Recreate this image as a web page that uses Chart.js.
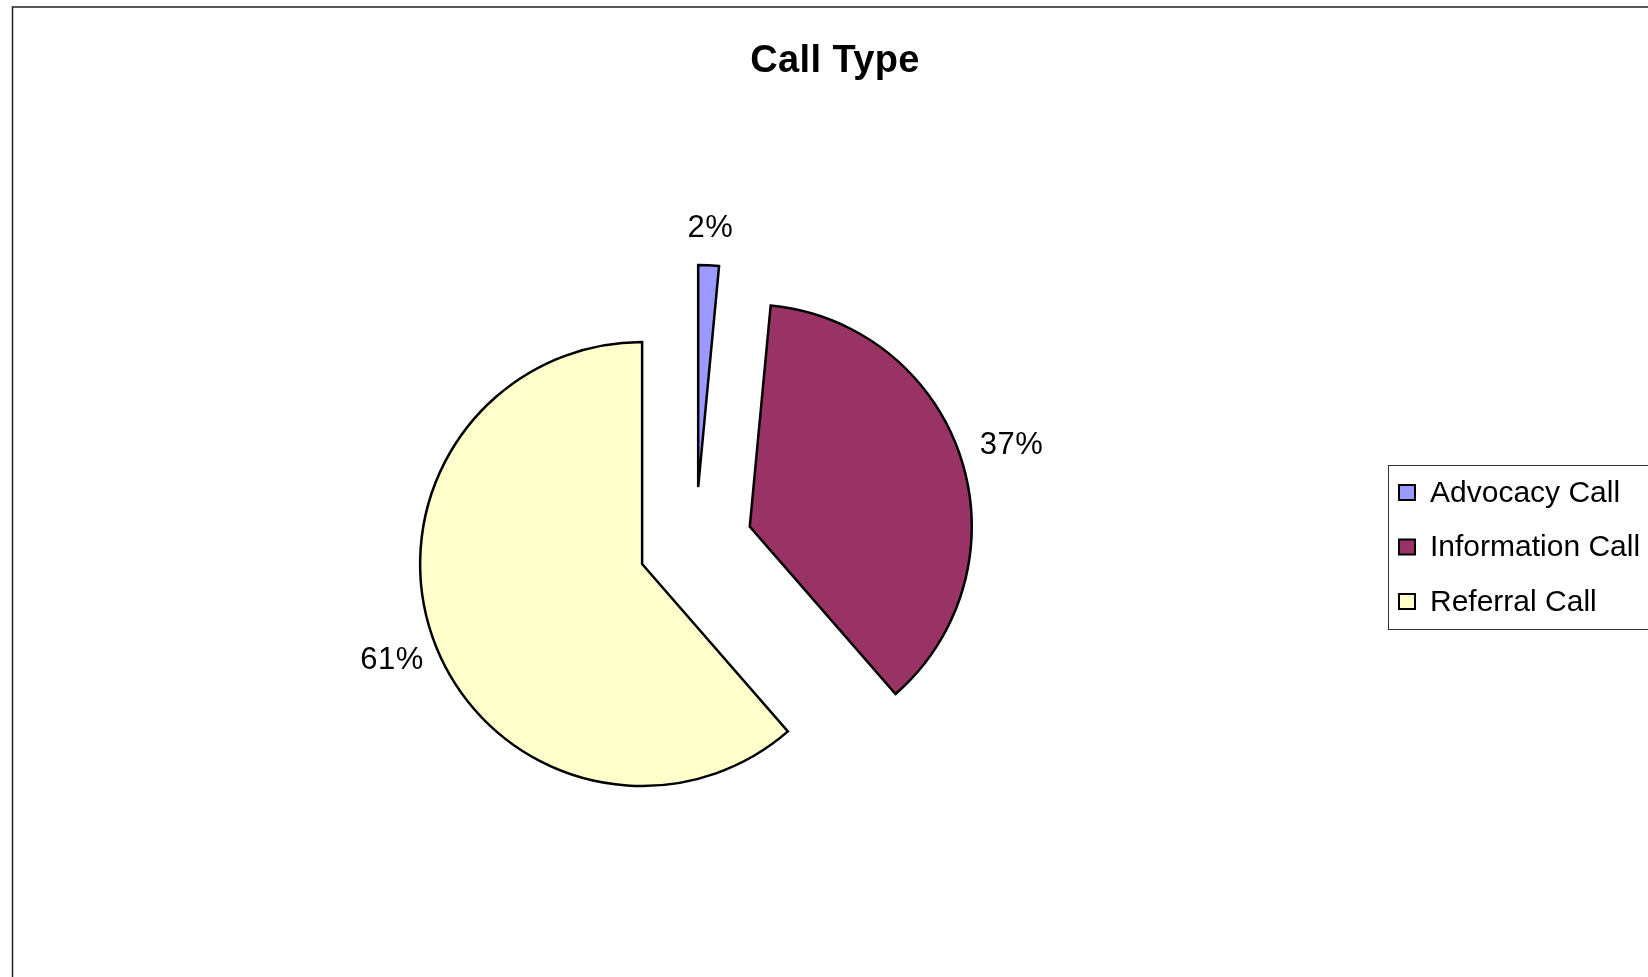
<!DOCTYPE html>
<html>
<head>
<meta charset="utf-8">
<style>
  html, body { margin: 0; padding: 0; background: #ffffff; }
  #wrap { position: relative; width: 1648px; height: 977px; }
  canvas { display: block; }
</style>
<script src="https://cdn.jsdelivr.net/npm/chart.js@4/dist/chart.umd.min.js"></script>
</head>
<body>
<div id="wrap"><canvas id="c" width="1648" height="977"></canvas></div>
<script>
// ---- data ----
const TITLE = 'Call Type';
const categories = ['Advocacy Call', 'Information Call', 'Referral Call'];
const values = [1.5, 37.1, 61.4];          // percent of calls
const colors = ['#9999FF', '#993366', '#FFFFCC'];

// ---- style ----
const FONT = '"Liberation Sans", Arial, sans-serif';
const EXPLODE = 57;                 // px each slice is pulled out
const LABEL_GAP = [40, 53, 45];     // px beyond the rim for each label

const total = values.reduce((a, b) => a + b, 0);

const explodedPie = {
  id: 'explodedPie',
  beforeDatasetDraw(chart, args) {
    const ctx = chart.ctx;
    const meta = chart.getDatasetMeta(args.index);
    meta.data.forEach((arc, i) => {
      const { x, y, startAngle, endAngle, outerRadius } = arc;
      const mid = (startAngle + endAngle) / 2;
      const cx = x + Math.cos(mid) * EXPLODE;
      const cy = y + Math.sin(mid) * EXPLODE;
      ctx.save();
      ctx.beginPath();
      ctx.moveTo(cx, cy);
      ctx.arc(cx, cy, outerRadius, startAngle, endAngle);
      ctx.closePath();
      ctx.fillStyle = arc.options.backgroundColor;
      ctx.fill();
      ctx.lineWidth = 2.5;
      ctx.lineJoin = 'miter';
      ctx.strokeStyle = '#000000';
      ctx.stroke();
      ctx.restore();

      // percentage label
      const lr = outerRadius + LABEL_GAP[i];
      const lx = cx + Math.cos(mid) * lr;
      const ly = cy + Math.sin(mid) * lr;
      const pct = Math.round(values[i] / total * 100 + 1e-9) + '%';
      ctx.save();
      ctx.font = '31px ' + FONT;
      ctx.letterSpacing = '0.5px';
      ctx.fillStyle = '#000000';
      ctx.textAlign = 'center';
      ctx.textBaseline = 'middle';
      ctx.fillText(pct, lx, ly + 3);
      ctx.restore();
    });
    return false;
  }
};

const frameTitleLegend = {
  id: 'frameTitleLegend',
  afterDraw(chart) {
    const ctx = chart.ctx;
    ctx.save();
    // outer chart frame (only top and left are inside the picture)
    ctx.strokeStyle = '#222222';
    ctx.lineWidth = 1.5;
    ctx.strokeRect(12.5, 7, 1700, 1100);

    // title
    ctx.font = 'bold 38px ' + FONT;
    ctx.letterSpacing = '0.4px';
    ctx.fillStyle = '#000000';
    ctx.textAlign = 'center';
    ctx.textBaseline = 'alphabetic';
    ctx.fillText(TITLE, 835, 71.5);

    // legend
    ctx.letterSpacing = '0px';
    ctx.lineWidth = 1;
    ctx.strokeStyle = '#333333';
    ctx.strokeRect(1388.5, 465.5, 1255, 164);
    const rowY = [492.5, 547, 601.5];
    categories.forEach((name, i) => {
      const yy = rowY[i];
      ctx.fillStyle = colors[i];
      ctx.fillRect(1399, yy - 7.5, 16, 15);
      ctx.lineWidth = 2;
      ctx.strokeStyle = '#000000';
      ctx.strokeRect(1399, yy - 7.5, 16, 15);
      ctx.font = '30px ' + FONT;
      ctx.fillStyle = '#000000';
      ctx.textAlign = 'left';
      ctx.textBaseline = 'middle';
      ctx.fillText(name, 1430, yy + 1);
    });
    ctx.restore();
  }
};

new Chart(document.getElementById('c'), {
  type: 'pie',
  data: {
    labels: categories,
    datasets: [{
      data: values,
      backgroundColor: colors,
      borderColor: '#000000',
      borderWidth: 2,
      radius: 222
    }]
  },
  options: {
    responsive: false,
    animation: false,
    events: [],
    layout: { padding: { left: 395.5, right: 652.5, top: 244, bottom: 133 } },
    plugins: {
      legend: { display: false },
      title: { display: false },
      tooltip: { enabled: false }
    }
  },
  plugins: [explodedPie, frameTitleLegend]
});
</script>
</body>
</html>
